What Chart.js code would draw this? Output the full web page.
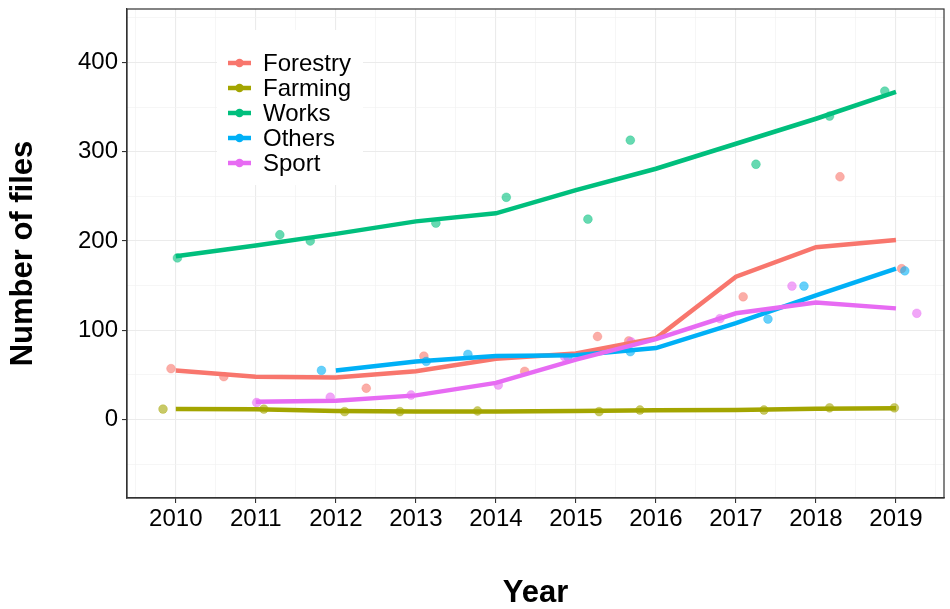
<!DOCTYPE html>
<html>
<head>
<meta charset="utf-8">
<script src="https://cdn.jsdelivr.net/npm/chart.js@4/dist/chart.umd.min.js"></script>
<style>
html,body{margin:0;padding:0;background:#fff;}
canvas{display:block;}
</style>
</head>
<body>
<canvas id="c" width="950" height="609"></canvas>
<script>
// ---- data ----
const years = [2010, 2011, 2012, 2013, 2014, 2015, 2016, 2017, 2018, 2019];
const seriesNames = ['Forestry', 'Farming', 'Works', 'Others', 'Sport'];
const seriesColors = ['#F8766D', '#A3A500', '#00BF7D', '#00B0F6', '#E76BF3'];

// fitted (smoothed) lines per year
const forestryFit = [55, 48, 47, 54, 68, 74, 91, 160, 193, 201];
const farmingFit  = [11.7, 11.5, 9.5, 9, 9, 9.5, 10.3, 10.5, 12, 12.5];
const worksFit    = [183, 195, 208, 222, 231, 257, 281, 309, 337, 367];
const othersFit   = [null, null, 55, 65, 71, 72, 80, 108, 139, 169];
const sportFit    = [null, 20, 21, 27, 41, 67, 90, 119, 131, 124.5];

// observed (jittered) points
const forestryX = [2009.94, 2010.6, 2012.38, 2013.1, 2014.36, 2015.27, 2015.66, 2017.09, 2018.3, 2019.07];
const forestryY = [57, 48, 35, 71, 54, 93, 88, 137.5, 272, 169];
const farmingX  = [2009.84, 2011.1, 2012.11, 2012.8, 2013.77, 2015.29, 2015.8, 2017.35, 2018.17, 2018.98];
const farmingY  = [11.7, 11.7, 8.8, 8.8, 9.5, 8.8, 10.6, 10.6, 13, 13];
const worksX    = [2010.02, 2011.3, 2011.68, 2013.25, 2014.13, 2015.15, 2015.68, 2017.25, 2018.17, 2018.86];
const worksY    = [181, 207, 200, 220, 249, 224.5, 313, 286, 340, 368];
const othersX   = [2011.82, 2013.13, 2013.65, 2014.9, 2015.68, 2017.4, 2017.85, 2019.11];
const othersY   = [55, 65, 73, 70, 76, 112.5, 149.5, 166.6];
const sportX    = [2011.01, 2011.93, 2012.94, 2014.03, 2014.86, 2015.69, 2016.8, 2017.7, 2019.26];
const sportY    = [19, 25, 27.4, 38.6, 70, 87, 113, 149.5, 119];

const xTicks = [2009.5, 2010, 2010.5, 2011, 2011.5, 2012, 2012.5, 2013, 2013.5, 2014, 2014.5, 2015, 2015.5, 2016, 2016.5, 2017, 2017.5, 2018, 2018.5, 2019, 2019.5];
const yTicks = [-50, 0, 50, 100, 150, 200, 250, 300, 350, 400, 450];

// ---- build datasets ----
const fits = [forestryFit, farmingFit, worksFit, othersFit, sportFit];
const ptsX = [forestryX, farmingX, worksX, othersX, sportX];
const ptsY = [forestryY, farmingY, worksY, othersY, sportY];

function hexA(hex, a) {
  const n = parseInt(hex.slice(1), 16);
  return `rgba(${(n >> 16) & 255},${(n >> 8) & 255},${n & 255},${a})`;
}

const datasets = [];
seriesNames.forEach((name, i) => {
  datasets.push({
    type: 'line',
    label: name,
    isFit: true,
    data: years.map((yr, k) => fits[i][k] == null ? null : { x: yr, y: fits[i][k] }).filter(d => d),
    borderColor: seriesColors[i],
    backgroundColor: seriesColors[i],
    borderWidth: 4.5,
    pointRadius: 0,
    tension: 0,
    fill: false,
    order: 5 - i
  });
});
seriesNames.forEach((name, i) => {
  datasets.push({
    type: 'scatter',
    label: name + ' points',
    isFit: false,
    data: ptsX[i].map((x, k) => ({ x: x, y: ptsY[i][k] })),
    backgroundColor: hexA(seriesColors[i], 0.6),
    borderColor: hexA(seriesColors[i], 0.6),
    pointRadius: 4.4,
    pointBorderWidth: 0.5,
    order: 20 - i
  });
});

// ---- plugins ----
const panelBorder = {
  id: 'panelBorder',
  afterDraw(chart) {
    const { ctx, chartArea: a } = chart;
    ctx.save();
    ctx.strokeStyle = '#333333';
    ctx.lineWidth = 1.2;
    ctx.strokeRect(a.left, a.top, a.right - a.left, a.bottom - a.top);
    ctx.restore();
  }
};

const insideLegend = {
  id: 'insideLegend',
  afterDatasetsDraw(chart) {
    const ctx = chart.ctx;
    const fitsDs = chart.data.datasets.filter(d => d.isFit);
    ctx.save();
    ctx.fillStyle = '#ffffff';
    ctx.fillRect(217, 30, 146, 155);
    ctx.font = '24px "Liberation Sans", Arial, sans-serif';
    ctx.textBaseline = 'middle';
    ctx.textAlign = 'left';
    fitsDs.forEach((d, i) => {
      const y = 63 + i * 25;
      ctx.strokeStyle = d.borderColor;
      ctx.lineWidth = 4.5;
      ctx.beginPath();
      ctx.moveTo(228, y);
      ctx.lineTo(251, y);
      ctx.stroke();
      ctx.fillStyle = d.borderColor;
      ctx.beginPath();
      ctx.arc(239.5, y, 4.2, 0, Math.PI * 2);
      ctx.fill();
      ctx.fillStyle = '#000000';
      ctx.fillText(d.label, 263, y + 1);
    });
    ctx.restore();
  }
};

const isInt = v => Math.abs(v - Math.round(v)) < 1e-6;
const isHundred = v => Math.abs(v % 100) < 1e-6;

new Chart(document.getElementById('c'), {
  data: { datasets },
  options: {
    responsive: false,
    animation: false,
    layout: { padding: { top: 9, right: 6, left: 0, bottom: 0 } },
    plugins: {
      legend: { display: false },
      tooltip: { enabled: false }
    },
    scales: {
      x: {
        type: 'linear',
        min: 2009.39,
        max: 2019.6,
        afterBuildTicks(scale) { scale.ticks = xTicks.map(v => ({ value: v })); },
        afterFit(scale) { scale.height = 111; scale.paddingLeft = 0; scale.paddingRight = 0; },
        ticks: {
          autoSkip: false,
          maxRotation: 0,
          padding: 2,
          color: '#000000',
          font: { family: '"Liberation Sans", Arial, sans-serif', size: 24 },
          callback: v => isInt(v) ? String(Math.round(v)) : ''
        },
        grid: {
          color: c => isInt(c.tick.value) ? '#EBEBEB' : '#F2F2F2',
          lineWidth: c => isInt(c.tick.value) ? 1.1 : 0.7,
          tickColor: c => isInt(c.tick.value) ? '#333333' : 'rgba(0,0,0,0)',
          tickLength: 5,
          drawTicks: true
        },
        border: { display: true, color: '#333333', width: 1.2 },
        title: {
          display: true,
          text: 'Year',
          color: '#000000',
          font: { family: '"Liberation Sans", Arial, sans-serif', size: 31, weight: 'bold', lineHeight: 1 },
          padding: { top: 0, bottom: 0 }
        }
      },
      y: {
        type: 'linear',
        min: -88,
        max: 460,
        afterBuildTicks(scale) { scale.ticks = yTicks.map(v => ({ value: v })); },
        afterFit(scale) { scale.width = 127; scale.paddingTop = 0; scale.paddingBottom = 0; },
        ticks: {
          autoSkip: false,
          padding: 4,
          color: '#000000',
          font: { family: '"Liberation Sans", Arial, sans-serif', size: 24 },
          callback: v => isHundred(v) ? String(v) : ''
        },
        grid: {
          color: c => isHundred(c.tick.value) ? '#EBEBEB' : '#F2F2F2',
          lineWidth: c => isHundred(c.tick.value) ? 1.1 : 0.7,
          tickColor: c => isHundred(c.tick.value) ? '#333333' : 'rgba(0,0,0,0)',
          tickLength: 5,
          drawTicks: true
        },
        border: { display: true, color: '#333333', width: 1.2 },
        title: {
          display: true,
          text: 'Number of files',
          color: '#000000',
          font: { family: '"Liberation Sans", Arial, sans-serif', size: 31, weight: 'bold', lineHeight: 1 },
          padding: { top: 8, bottom: 0 }
        }
      }
    }
  },
  plugins: [panelBorder, insideLegend]
});
</script>
</body>
</html>
